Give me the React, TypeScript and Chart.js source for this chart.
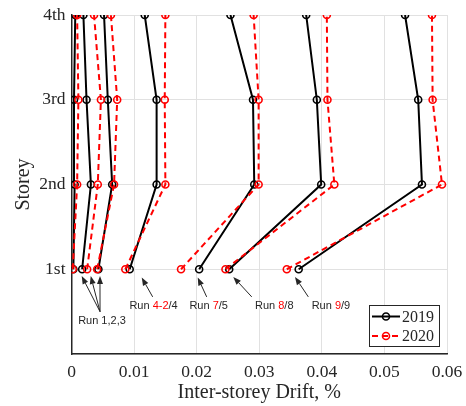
import React, { useEffect, useRef } from 'react';
import { Chart, registerables } from 'chart.js';

Chart.register(...registerables);

// ---------------- data ----------------
const STOREYS = [1, 2, 3, 4];
const STOREY_LABELS = ['1st', '2nd', '3rd', '4th'];
const X_TICKS = [0, 0.01, 0.02, 0.03, 0.04, 0.05, 0.06];

// 2019 test runs (drift at 1st, 2nd, 3rd, 4th storey)
const drift2019Run1 = [0.0003, 0.0005, 0.0004, 0.0006];
const drift2019Run2 = [0.0017, 0.0031, 0.0024, 0.0019];
const drift2019Run3 = [0.0043, 0.0065, 0.0058, 0.0052];
const drift2019Run4 = [0.0093, 0.0136, 0.0136, 0.0117];
const drift2019Run5 = [0.0204, 0.0292, 0.029, 0.0254];
const drift2019Run8 = [0.0252, 0.0399, 0.0392, 0.0375];
const drift2019Run9 = [0.0363, 0.056, 0.0554, 0.0533];

// 2020 test runs
const drift2020Run1 = [0.0002, 0.0009, 0.0011, 0.0009];
const drift2020Run2 = [0.0025, 0.0042, 0.0047, 0.0036];
const drift2020Run3 = [0.0041, 0.0068, 0.0073, 0.0063];
const drift2020Run4_2 = [0.0086, 0.015, 0.0149, 0.015];
const drift2020Run7 = [0.0175, 0.0299, 0.0299, 0.0291];
const drift2020Run8 = [0.0246, 0.042, 0.0409, 0.0408];
const drift2020Run9 = [0.0344, 0.0592, 0.0577, 0.0576];

const series2019 = [drift2019Run1, drift2019Run2, drift2019Run3, drift2019Run4, drift2019Run5, drift2019Run8, drift2019Run9];
const series2020 = [drift2020Run1, drift2020Run2, drift2020Run3, drift2020Run4_2, drift2020Run7, drift2020Run8, drift2020Run9];

const LEGEND_LABELS = ['2019', '2020'];

// annotation labels (data coordinates)
const ANNOTATIONS = [
  { parts: [['Run 1,2,3', 'k']], at: [0.00487, 0.389], tail: [0.00456, 0.499], tips: [[0.00163, 0.92], [0.00307, 0.92], [0.00455, 0.92]] },
  { parts: [['Run ', 'k'], ['4-2', 'r'], ['/4', 'k']], at: [0.01311, 0.566], tail: [0.01297, 0.674], tips: [[0.01122, 0.903]] },
  { parts: [['Run ', 'k'], ['7', 'r'], ['/5', 'k']], at: [0.02192, 0.566], tail: [0.0216, 0.674], tips: [[0.02017, 0.903]] },
  { parts: [['Run ', 'k'], ['8', 'r'], ['/8', 'k']], at: [0.0324, 0.566], tail: [0.0288, 0.674], tips: [[0.02585, 0.91]] },
  { parts: [['Run ', 'k'], ['9', 'r'], ['/9', 'k']], at: [0.04145, 0.566], tail: [0.03784, 0.674], tips: [[0.03571, 0.91]] },
];

// ---------------- styles ----------------
const BLACK = '#000000';
const RED = '#ff0000';
const AXIS = '#262626';
const GRID = '#e1e1e1';
const SERIF = "'Liberation Serif', 'Times New Roman', serif";
const SANS = "'Liberation Sans', Arial, sans-serif";

const mkDataset = (vals: number[], year: string, color: string, dashed: boolean, order: number) => ({
  label: year,
  data: vals.map((v, i) => ({ x: v, y: STOREYS[i] })),
  borderColor: color,
  borderWidth: 2,
  borderDash: dashed ? [6, 4] : [],
  pointRadius: 3.5,
  pointHoverRadius: 3.5,
  pointBorderWidth: 1.6,
  pointBorderColor: color,
  pointBackgroundColor: 'rgba(0,0,0,0)',
  pointStyle: 'circle',
  tension: 0,
  fill: false,
  order,
});

const annotationPlugin = {
  id: 'runAnnotations',
  afterDatasetsDraw(chart: any) {
    const { ctx, scales } = chart;
    const xs = scales.x, ys = scales.y;
    ctx.save();
    ctx.font = `11px ${SANS}`;
    ctx.textBaseline = 'middle';
    for (const a of ANNOTATIONS) {
      const tx = xs.getPixelForValue(a.tail[0]);
      const ty = ys.getPixelForValue(a.tail[1]);
      for (const t of a.tips) {
        const px = xs.getPixelForValue(t[0]);
        const py = ys.getPixelForValue(t[1]);
        const ang = Math.atan2(py - ty, px - tx);
        const hl = 8, hw = 3;
        const bx = px - hl * Math.cos(ang), by = py - hl * Math.sin(ang);
        ctx.strokeStyle = AXIS;
        ctx.lineWidth = 1;
        ctx.beginPath();
        ctx.moveTo(tx, ty);
        ctx.lineTo(bx, by);
        ctx.stroke();
        ctx.fillStyle = AXIS;
        ctx.beginPath();
        ctx.moveTo(px, py);
        ctx.lineTo(bx + hw * Math.sin(ang), by - hw * Math.cos(ang));
        ctx.lineTo(bx - hw * Math.sin(ang), by + hw * Math.cos(ang));
        ctx.closePath();
        ctx.fill();
      }
      const total = a.parts.reduce((s: number, p: any) => s + ctx.measureText(p[0]).width, 0);
      let x = xs.getPixelForValue(a.at[0]) - total / 2;
      const y = ys.getPixelForValue(a.at[1]);
      ctx.textAlign = 'left';
      for (const p of a.parts) {
        ctx.fillStyle = p[1] === 'r' ? RED : AXIS;
        ctx.fillText(p[0], x, y);
        x += ctx.measureText(p[0]).width;
      }
    }
    ctx.restore();
  },
};

const legendPlugin = {
  id: 'boxLegend',
  afterDraw(chart: any) {
    const { ctx, chartArea } = chart;
    const w = 70, h = 41;
    const x0 = Math.round(chartArea.right - 8 - w);
    const y0 = Math.round(chartArea.bottom - 8 - h);
    ctx.save();
    ctx.fillStyle = '#ffffff';
    ctx.fillRect(x0, y0, w, h);
    ctx.strokeStyle = AXIS;
    ctx.lineWidth = 1;
    ctx.strokeRect(x0 + 0.5, y0 + 0.5, w, h);
    const entries = [
      { label: LEGEND_LABELS[0], color: BLACK, dash: [] as number[], y: y0 + 11.5 },
      { label: LEGEND_LABELS[1], color: RED, dash: [6, 4], y: y0 + 31 },
    ];
    ctx.font = `16px ${SERIF}`;
    ctx.textBaseline = 'middle';
    ctx.textAlign = 'left';
    for (const e of entries) {
      ctx.strokeStyle = e.color;
      ctx.lineWidth = 2;
      ctx.setLineDash(e.dash);
      ctx.beginPath();
      ctx.moveTo(x0 + 3, e.y);
      ctx.lineTo(x0 + 31, e.y);
      ctx.stroke();
      ctx.setLineDash([]);
      ctx.lineWidth = 1.6;
      ctx.beginPath();
      ctx.arc(x0 + 17, e.y, 3.5, 0, Math.PI * 2);
      ctx.stroke();
      ctx.fillStyle = AXIS;
      ctx.fillText(e.label, x0 + 33, e.y + 1);
    }
    ctx.restore();
  },
};

export default function App() {
  const ref = useRef<HTMLCanvasElement | null>(null);
  useEffect(() => {
    if (!ref.current) return;
    const datasets = [
      ...series2020.map((v) => mkDataset(v, '2020', RED, true, 0)),
      ...series2019.map((v) => mkDataset(v, '2019', BLACK, false, 1)),
    ];
    const chart = new Chart(ref.current, {
      type: 'line',
      data: { datasets } as any,
      options: {
        animation: false,
        responsive: false,
        maintainAspectRatio: false,
        layout: { padding: { left: 0, top: 15, right: 19, bottom: 0 } },
        plugins: { legend: { display: false }, tooltip: { enabled: false } },
        scales: {
          x: {
            type: 'linear',
            min: X_TICKS[0],
            max: X_TICKS[X_TICKS.length - 1],
            afterBuildTicks: (s: any) => { s.ticks = X_TICKS.map((v) => ({ value: v })); },
            ticks: {
              callback: (v: any) => String(Math.round(Number(v) * 100) / 100),
              font: { family: SERIF, size: 17.5 },
              color: AXIS,
              padding: 8,
              maxRotation: 0,
              autoSkip: false,
            },
            grid: { color: GRID, lineWidth: 1, drawTicks: false },
            border: { color: AXIS, width: 1.5 },
            title: {
              display: true,
              text: 'Inter-storey Drift, %',
              font: { family: SERIF, size: 20 },
              color: AXIS,
              padding: { top: 0, bottom: 1 },
            },
            afterFit: (s: any) => { s.height = 52; s.paddingLeft = 0; s.paddingRight = 0; },
          },
          y: {
            type: 'linear',
            min: 0,
            max: 4,
            afterBuildTicks: (s: any) => { s.ticks = [0, ...STOREYS].map((v) => ({ value: v })); },
            ticks: {
              callback: (v: any) => (Number(v) >= 1 ? STOREY_LABELS[Number(v) - 1] : ''),
              font: { family: SERIF, size: 17.5 },
              color: AXIS,
              padding: 6,
              autoSkip: false,
            },
            grid: { color: GRID, lineWidth: 1, drawTicks: false },
            border: { color: AXIS, width: 1.5 },
            title: {
              display: true,
              text: 'Storey',
              font: { family: SERIF, size: 20 },
              color: AXIS,
              padding: { top: 11.5, bottom: 0 },
            },
            afterFit: (s: any) => { s.width = 71.5; s.paddingTop = 0; s.paddingBottom = 0; },
          },
        },
      } as any,
      plugins: [annotationPlugin, legendPlugin],
    });
    return () => chart.destroy();
  }, []);
  return (
    <div style={{ position: 'absolute', left: 0, top: 0, width: 466, height: 406, background: '#fff' }}>
      <canvas ref={ref} width={466} height={406} style={{ display: 'block', width: 466, height: 406 }} />
    </div>
  );
}
